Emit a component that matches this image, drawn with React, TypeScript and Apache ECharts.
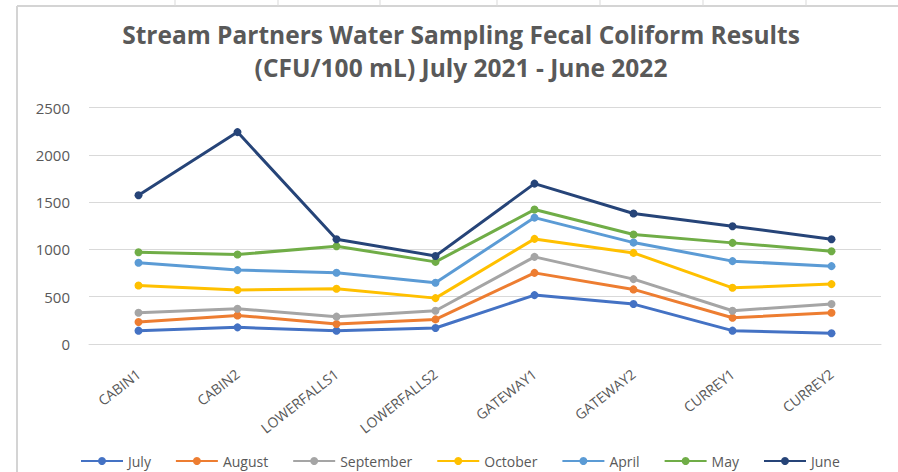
import React, { useEffect, useRef } from "react";
import * as echarts from "echarts";

const categories = ["CABIN1", "CABIN2", "LOWERFALLS1", "LOWERFALLS2", "GATEWAY1", "GATEWAY2", "CURREY1", "CURREY2"];
const seriesNames = ["July", "August", "September", "October", "April", "May", "June"];
const july = [141, 176, 141, 169, 517, 422, 141, 113];
const august = [232, 302, 211, 260, 752, 577, 277, 330];
const september = [331, 373, 289, 352, 921, 686, 352, 422];
const october = [619, 570, 584, 485, 1111, 963, 594, 633];
const april = [858, 781, 753, 647, 1336, 1072, 876, 823];
const may = [970, 946, 1034, 868, 1421, 1157, 1069, 981];
const june = [1572, 2240, 1108, 931, 1695, 1379, 1245, 1108];
const seriesValues = [july, august, september, october, april, may, june];
const colors = ["#4472C4", "#ED7D31", "#A5A5A5", "#FFC000", "#5B9BD5", "#70AD47", "#264478"];
const cellSeparators = [175, 278, 380, 497, 600, 703, 806];

const FONT = "Open Sans";

export default function App() {
  const ref = useRef<HTMLDivElement>(null);
  useEffect(() => {
    if (!ref.current) return;
    const chart = echarts.init(ref.current, null, { renderer: "svg" });
    const graphics: any[] = [
      { type: "line", shape: { x1: 17, y1: 6, x2: 898, y2: 6 }, style: { stroke: "#d4d4d4", lineWidth: 2 } },
      { type: "line", shape: { x1: 17, y1: 6, x2: 17, y2: 472 }, style: { stroke: "#d4d4d4", lineWidth: 2 } },
      ...cellSeparators.map((x) => ({
        type: "line",
        shape: { x1: x, y1: 0, x2: x, y2: 6 },
        style: { stroke: "#d9d9d9", lineWidth: 1 },
      })),
    ];
    chart.setOption({
      animation: false,
      backgroundColor: "#ffffff",
      color: colors,
      title: {
        text: "Stream Partners Water Sampling Fecal Coliform Results\n(CFU/100 mL) July 2021 - June 2022",
        left: 456,
        textAlign: "center",
        top: 13,
        textStyle: {
          fontFamily: FONT,
          fontWeight: "bold",
          fontSize: 24.5,
          lineHeight: 33,
          color: "#595959",
        },
      },
      graphic: graphics,
      grid: { left: 89, right: 17, top: 107.5, bottom: 128 },
      legend: {
        data: seriesNames,
        left: 75,
        top: 449,
        itemWidth: 42,
        itemHeight: 10,
        itemGap: 24,
        textStyle: { fontFamily: FONT, fontSize: 14, color: "#595959" },
      },
      xAxis: {
        type: "category",
        data: categories,
        boundaryGap: true,
        axisLine: { lineStyle: { color: "#d9d9d9" } },
        axisTick: { show: false },
        axisLabel: { rotate: 38, margin: 28, fontFamily: FONT, fontSize: 14, color: "#595959", interval: 0 },
      },
      yAxis: {
        type: "value",
        min: 0,
        max: 2500,
        interval: 500,
        axisLine: { show: false },
        axisTick: { show: false },
        splitLine: { lineStyle: { color: "#d9d9d9" } },
        axisLabel: {
          margin: 19,
          fontFamily: FONT,
          fontSize: 15,
          color: "#595959",
          formatter: (v: number) => String(v),
        },
      },
      series: seriesNames.map((name, i) => ({
        name,
        type: "line",
        data: seriesValues[i],
        symbol: "circle",
        symbolSize: 8,
        lineStyle: { width: 3, color: colors[i] },
        itemStyle: { color: colors[i] },
      })),
    });
    return () => chart.dispose();
  }, []);
  return <div ref={ref} style={{ position: "absolute", left: 0, top: 0, width: 898, height: 472 }} />;
}
